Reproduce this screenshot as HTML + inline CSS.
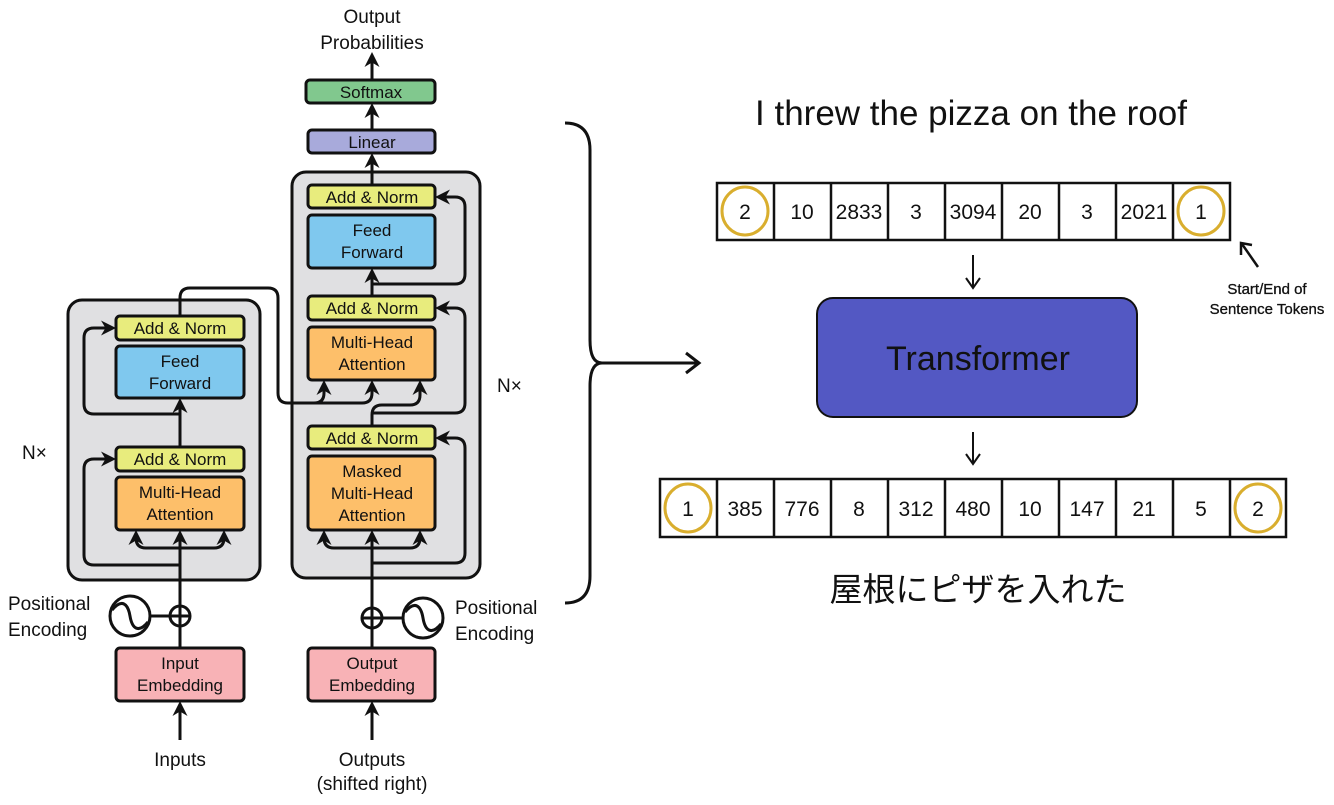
<!DOCTYPE html>
<html><head><meta charset="utf-8"><style>
html,body{margin:0;padding:0;background:#fff;}
svg{display:block;}
.t{font-family:"Liberation Sans",sans-serif;fill:#111;}
.box{stroke:#111;stroke-width:3;}
.ln{stroke:#111;stroke-width:3;fill:none;}
</style></head><body>
<svg width="1334" height="805" viewBox="0 0 1334 805" xmlns="http://www.w3.org/2000/svg">
<defs>
<marker id="ah" viewBox="0 0 10 10" refX="8" refY="5" markerWidth="5" markerHeight="5" orient="auto"><path d="M0,0 L10,5 L0,10 L3,5 z" fill="#111"/></marker>
</defs>
<rect x="68" y="300" width="192" height="280" rx="14" fill="#e0e0e2" class="box"/>
<rect x="292" y="172" width="188" height="406" rx="14" fill="#e0e0e2" class="box"/>

<path class="ln" d="M180,648 V533" marker-end="url(#ah)"/>
<path class="ln" d="M180,548 H146 Q136,548 136,538 V533" marker-end="url(#ah)"/>
<path class="ln" d="M180,548 H214 Q224,548 224,538 V533" marker-end="url(#ah)"/>
<path class="ln" d="M180,565 H94 Q84,565 84,555 V469 Q84,459 94,459 H113" marker-end="url(#ah)"/>
<path class="ln" d="M180,447 V401" marker-end="url(#ah)"/>
<path class="ln" d="M180,414 H94 Q84,414 84,404 V338 Q84,328 94,328 H113" marker-end="url(#ah)"/>
<path class="ln" d="M180,316 V298 Q180,288 190,288 H268 Q278,288 278,298 V393 Q278,403 288,403 H314 Q324,403 324,393 V383" marker-end="url(#ah)"/>
<path class="ln" d="M310,403 H362 Q372,403 372,393 V383" marker-end="url(#ah)"/>
<path class="ln" d="M372,648 V533" marker-end="url(#ah)"/>
<path class="ln" d="M372,548 H334 Q324,548 324,538 V533" marker-end="url(#ah)"/>
<path class="ln" d="M372,548 H410 Q420,548 420,538 V533" marker-end="url(#ah)"/>
<path class="ln" d="M372,563 H455 Q465,563 465,553 V448 Q465,438 455,438 H438" marker-end="url(#ah)"/>
<path class="ln" d="M372,426 V415 Q372,405 382,405 H410 Q420,405 420,395 V383" marker-end="url(#ah)"/>
<path class="ln" d="M372,413 H455 Q465,413 465,403 V318 Q465,308 455,308 H438" marker-end="url(#ah)"/>
<path class="ln" d="M372,296 V271" marker-end="url(#ah)"/>
<path class="ln" d="M372,284 H455 Q465,284 465,274 V207 Q465,197 455,197 H438" marker-end="url(#ah)"/>
<path class="ln" d="M372,185 V156" marker-end="url(#ah)"/>
<path class="ln" d="M372,130 V106" marker-end="url(#ah)"/>
<path class="ln" d="M372,80 V55" marker-end="url(#ah)"/>
<path class="ln" d="M180,740 V704" marker-end="url(#ah)"/>
<path class="ln" d="M372,740 V704" marker-end="url(#ah)"/>

<rect x="116" y="316" width="128" height="24" rx="4" fill="#e8ec7d" class="box"/>
<text x="180" y="334" font-size="17" text-anchor="middle" class="t">Add &amp; Norm</text>
<rect x="116" y="346" width="128" height="52" rx="4" fill="#7fc8ee" class="box"/>
<text x="180" y="367" font-size="17" text-anchor="middle" class="t">Feed</text>
<text x="180" y="389" font-size="17" text-anchor="middle" class="t">Forward</text>
<rect x="116" y="447" width="128" height="24" rx="4" fill="#e8ec7d" class="box"/>
<text x="180" y="465" font-size="17" text-anchor="middle" class="t">Add &amp; Norm</text>
<rect x="116" y="477" width="128" height="53" rx="4" fill="#fdbf6a" class="box"/>
<text x="180" y="498" font-size="17" text-anchor="middle" class="t">Multi-Head</text>
<text x="180" y="520" font-size="17" text-anchor="middle" class="t">Attention</text>

<rect x="308" y="185" width="127" height="23" rx="4" fill="#e8ec7d" class="box"/>
<text x="372" y="203" font-size="17" text-anchor="middle" class="t">Add &amp; Norm</text>
<rect x="308" y="215" width="127" height="53" rx="4" fill="#7fc8ee" class="box"/>
<text x="372" y="236" font-size="17" text-anchor="middle" class="t">Feed</text>
<text x="372" y="258" font-size="17" text-anchor="middle" class="t">Forward</text>
<rect x="308" y="296" width="127" height="24" rx="4" fill="#e8ec7d" class="box"/>
<text x="372" y="314" font-size="17" text-anchor="middle" class="t">Add &amp; Norm</text>
<rect x="308" y="327" width="127" height="53" rx="4" fill="#fdbf6a" class="box"/>
<text x="372" y="348" font-size="17" text-anchor="middle" class="t">Multi-Head</text>
<text x="372" y="370" font-size="17" text-anchor="middle" class="t">Attention</text>
<rect x="308" y="426" width="127" height="23" rx="4" fill="#e8ec7d" class="box"/>
<text x="372" y="444" font-size="17" text-anchor="middle" class="t">Add &amp; Norm</text>
<rect x="308" y="456" width="127" height="74" rx="4" fill="#fdbf6a" class="box"/>
<text x="372" y="477" font-size="17" text-anchor="middle" class="t">Masked</text>
<text x="372" y="499" font-size="17" text-anchor="middle" class="t">Multi-Head</text>
<text x="372" y="521" font-size="17" text-anchor="middle" class="t">Attention</text>

<rect x="308" y="130" width="127" height="23" rx="4" fill="#a8aadb" class="box"/>
<text x="372" y="148" font-size="17" text-anchor="middle" class="t">Linear</text>
<rect x="306" y="80" width="129" height="23" rx="4" fill="#81c88e" class="box"/>
<text x="371" y="98" font-size="17" text-anchor="middle" class="t">Softmax</text>
<text x="372" y="23" font-size="19" text-anchor="middle" class="t">Output</text>
<text x="372" y="49" font-size="19" text-anchor="middle" class="t">Probabilities</text>

<rect x="116" y="648" width="128" height="53" rx="4" fill="#f8b2b6" class="box"/>
<text x="180" y="669" font-size="17" text-anchor="middle" class="t">Input</text>
<text x="180" y="691" font-size="17" text-anchor="middle" class="t">Embedding</text>
<rect x="308" y="648" width="127" height="53" rx="4" fill="#f8b2b6" class="box"/>
<text x="372" y="669" font-size="17" text-anchor="middle" class="t">Output</text>
<text x="372" y="691" font-size="17" text-anchor="middle" class="t">Embedding</text>

<path class="ln" d="M150,616 H170"/>
<circle cx="130" cy="616" r="20" fill="#fff" class="box"/>
<path class="ln" d="M112,610 C122,598 128,604 130,616 C132,628 138,634 148,622"/>
<circle cx="180" cy="616" r="10" fill="#fff" class="box"/>
<path class="ln" d="M170,616 H190 M180,606 V626"/>
<path class="ln" d="M382,618 H403"/>
<circle cx="423" cy="618" r="20" fill="#fff" class="box"/>
<path class="ln" d="M405,612 C415,600 421,606 423,618 C425,630 431,636 441,624"/>
<circle cx="372" cy="618" r="10" fill="#fff" class="box"/>
<path class="ln" d="M362,618 H382 M372,608 V628"/>

<text x="8" y="610" font-size="19" class="t">Positional</text>
<text x="8" y="636" font-size="19" class="t">Encoding</text>
<text x="455" y="614" font-size="19" class="t">Positional</text>
<text x="455" y="640" font-size="19" class="t">Encoding</text>
<text x="180" y="766" font-size="19" text-anchor="middle" class="t">Inputs</text>
<text x="372" y="766" font-size="19" text-anchor="middle" class="t">Outputs</text>
<text x="372" y="790" font-size="19" text-anchor="middle" class="t">(shifted right)</text>
<text x="22" y="459" font-size="19" class="t">N×</text>
<text x="497" y="392" font-size="19" class="t">N×</text>

<path class="ln" d="M565,123 Q590,123 590,150 V340 Q590,363 602,363 Q590,363 590,386 V576 Q590,603 565,603"/>
<path class="ln" d="M602,363 H697"/>
<path class="ln" d="M686,353 L699,363 L686,373"/>

<text x="971" y="125" font-size="35" text-anchor="middle" class="t">I threw the pizza on the roof</text>
<g font-size="21" text-anchor="middle" class="t">
<rect x="717" y="183" width="513" height="57" fill="#fff" stroke="#111" stroke-width="2.5"/>
<path d="M774,183V240M831,183V240M888,183V240M945,183V240M1002,183V240M1059,183V240M1116,183V240M1173,183V240" stroke="#111" stroke-width="2.5"/>
<ellipse cx="745" cy="211" rx="23" ry="24" fill="none" stroke="#d9ae2e" stroke-width="3"/>
<ellipse cx="1201" cy="211" rx="23" ry="24" fill="none" stroke="#d9ae2e" stroke-width="3"/>
<text x="745" y="219">2</text><text x="802" y="219">10</text><text x="859" y="219">2833</text><text x="916" y="219">3</text><text x="973" y="219">3094</text><text x="1030" y="219">20</text><text x="1087" y="219">3</text><text x="1144" y="219">2021</text><text x="1201" y="219">1</text>
</g>
<path d="M973,255 V287 M966,278 L973,288 L980,278" stroke="#111" stroke-width="2" fill="none"/>
<path d="M1258,267 L1242,244 M1241,255 L1241,243 L1252,245" stroke="#111" stroke-width="2.5" fill="none"/>
<text x="1267" y="294" font-size="15" text-anchor="middle" class="t" stroke="#111" stroke-width="0.3">Start/End of</text>
<text x="1267" y="314" font-size="15" text-anchor="middle" class="t" stroke="#111" stroke-width="0.3">Sentence Tokens</text>

<rect x="817" y="298" width="320" height="119" rx="16" fill="#5358c3" stroke="#111" stroke-width="2"/>
<text x="978" y="370" font-size="34" text-anchor="middle" class="t">Transformer</text>
<path d="M973,432 V463 M966,454 L973,464 L980,454" stroke="#111" stroke-width="2" fill="none"/>

<g font-size="21" text-anchor="middle" class="t">
<rect x="660" y="479" width="626" height="58" fill="#fff" stroke="#111" stroke-width="2.5"/>
<path d="M717,479V537M774,479V537M831,479V537M888,479V537M945,479V537M1002,479V537M1059,479V537M1116,479V537M1173,479V537M1230,479V537" stroke="#111" stroke-width="2.5"/>
<ellipse cx="688" cy="508" rx="23" ry="24" fill="none" stroke="#d9ae2e" stroke-width="3"/>
<ellipse cx="1258" cy="508" rx="23" ry="24" fill="none" stroke="#d9ae2e" stroke-width="3"/>
<text x="688" y="516">1</text><text x="745" y="516">385</text><text x="802" y="516">776</text><text x="859" y="516">8</text><text x="916" y="516">312</text><text x="973" y="516">480</text><text x="1030" y="516">10</text><text x="1087" y="516">147</text><text x="1144" y="516">21</text><text x="1201" y="516">5</text><text x="1258" y="516">2</text>
</g>
<text x="978" y="601" font-size="33" text-anchor="middle" style="font-family:'Liberation Sans','Noto Sans CJK JP',sans-serif" fill="#111">屋根にピザを入れた</text>
</svg>
</body></html>
